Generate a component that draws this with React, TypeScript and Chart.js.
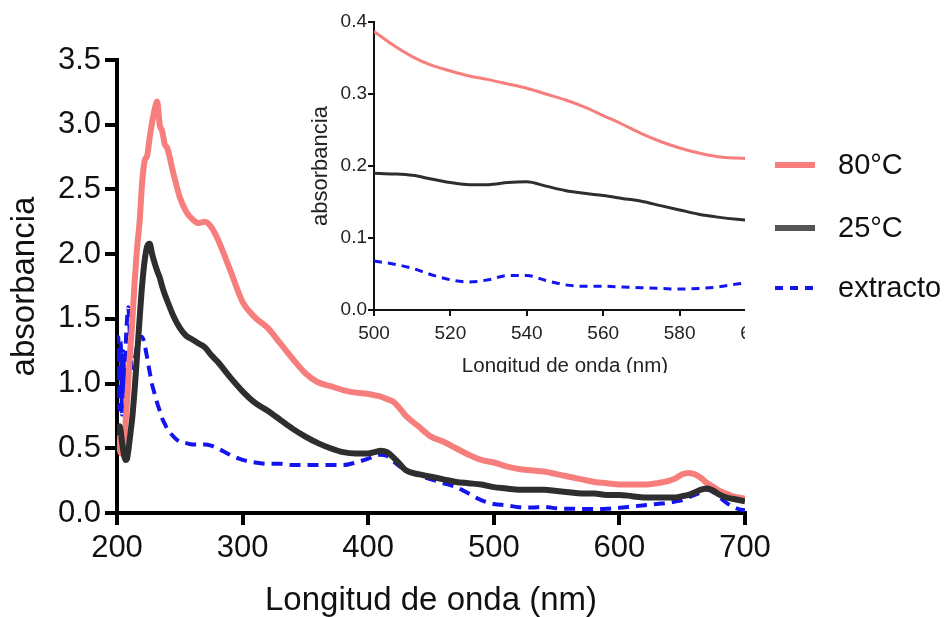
import React, { useEffect, useRef } from 'react';
import { Chart, registerables } from 'chart.js';

Chart.register(...registerables);

// ---------- Data ----------
const seriesLabels = ['80°C', '25°C', 'extracto'];

const wavelengths = [
  200, 201, 202, 203, 204, 205, 206, 207, 208, 209, 210, 211, 212,
  214, 216, 218, 220, 222, 224, 226, 228, 230, 232, 234, 236, 238, 240,
  245, 250, 255, 260, 265, 270, 275, 280,
  290, 300, 310, 320, 330, 340, 350, 360, 370, 380, 390, 400,
  405, 410, 415, 420, 425, 430,
  440, 450, 460, 470, 480, 490, 500, 510, 520, 530, 540, 550, 560, 570, 580, 590, 600, 610, 620, 630, 640,
  645, 650, 655, 660, 665, 670, 675, 680, 685, 690, 695, 700,
];

const abs80 = [
  0.60, 0.55, 0.50, 0.46, 0.47, 0.52, 0.60, 0.72, 0.86, 1.02, 1.18, 1.32, 1.45,
  1.78, 2.05, 2.25, 2.55, 2.72, 2.76, 2.90, 3.02, 3.12, 3.18, 3.00, 2.95, 2.85, 2.82,
  2.62, 2.44, 2.33, 2.27, 2.24, 2.25, 2.21, 2.12,
  1.88, 1.63, 1.51, 1.43, 1.31, 1.19, 1.08, 1.01, 0.98, 0.95, 0.93, 0.92,
  0.91, 0.90, 0.88, 0.86, 0.81, 0.75,
  0.67, 0.59, 0.55, 0.50, 0.45, 0.41, 0.39, 0.36, 0.34, 0.33, 0.32, 0.30, 0.28, 0.26, 0.24, 0.23, 0.22, 0.22, 0.22, 0.23, 0.25,
  0.27, 0.30, 0.31, 0.30, 0.27, 0.23, 0.20, 0.17, 0.15, 0.13, 0.12, 0.11,
];

const abs25 = [
  0.60, 0.64, 0.67, 0.63, 0.55, 0.48, 0.43, 0.41, 0.42, 0.48, 0.56, 0.64, 0.72,
  0.95, 1.22, 1.50, 1.76, 1.95, 2.06, 2.08, 2.00, 1.93, 1.87, 1.82, 1.75, 1.69, 1.64,
  1.52, 1.43, 1.37, 1.34, 1.31, 1.28, 1.22, 1.17,
  1.05, 0.94, 0.85, 0.79, 0.72, 0.65, 0.59, 0.54, 0.50, 0.47, 0.46, 0.46,
  0.47, 0.48, 0.47, 0.43, 0.38, 0.33,
  0.30, 0.28, 0.26, 0.24, 0.23, 0.22, 0.20, 0.19, 0.18, 0.18, 0.18, 0.17, 0.16, 0.15, 0.15, 0.14, 0.14, 0.13, 0.12, 0.12, 0.12,
  0.12, 0.13, 0.14, 0.16, 0.18, 0.19, 0.17, 0.14, 0.12, 0.11, 0.10, 0.09,
];

const absExtracto = [
  1.05, 1.36, 0.80, 1.32, 0.76, 1.25, 0.90, 1.30, 1.50, 1.59, 1.42, 1.20, 1.12,
  1.18, 1.30, 1.36, 1.36, 1.30, 1.20, 1.09, 0.99, 0.92, 0.85, 0.79, 0.73, 0.69, 0.65,
  0.59, 0.55, 0.54, 0.53, 0.53, 0.53, 0.52, 0.50,
  0.45, 0.41, 0.39, 0.38, 0.38, 0.37, 0.37, 0.37, 0.37, 0.37, 0.39, 0.42,
  0.44, 0.45, 0.44, 0.40, 0.36, 0.33,
  0.29, 0.26, 0.23, 0.20, 0.15, 0.10, 0.07, 0.06, 0.045, 0.042, 0.048, 0.036, 0.033, 0.031, 0.03, 0.032, 0.04, 0.05, 0.06, 0.07, 0.08,
  0.09, 0.10, 0.12, 0.14, 0.16, 0.18, 0.16, 0.12, 0.08, 0.05, 0.03, 0.02,
];

const insetWavelengths = [
  500, 505, 510, 515, 520, 525, 530, 535, 540, 545, 550,
  555, 560, 565, 570, 575, 580, 585, 590, 595, 600,
];

const inset80 = [
  0.387, 0.368, 0.352, 0.340, 0.332, 0.325, 0.320, 0.314, 0.308, 0.300, 0.292,
  0.282, 0.270, 0.258, 0.245, 0.234, 0.225, 0.218, 0.213, 0.211, 0.210,
];

const inset25 = [
  0.190, 0.189, 0.187, 0.182, 0.177, 0.174, 0.174, 0.177, 0.178, 0.172, 0.166,
  0.162, 0.159, 0.155, 0.151, 0.145, 0.139, 0.133, 0.129, 0.126, 0.124,
];

const insetExtracto = [
  0.068, 0.064, 0.058, 0.049, 0.042, 0.039, 0.042, 0.048, 0.048, 0.041, 0.035,
  0.033, 0.033, 0.032, 0.031, 0.030, 0.029, 0.030, 0.032, 0.036, 0.039,
];

// ---------- Styles ----------
const RED = '#F67F7E';
const DARK = '#2E2E2E';
const BLUE = '#1414EE';
const FONT = '"Liberation Sans", Arial, Helvetica, sans-serif';

Chart.defaults.font.family = FONT;

const toPoints = (xs: number[], ys: number[]) => xs.map((x, i) => ({ x, y: ys[i] }));

const sideLegend = {
  id: 'sideLegend',
  afterDraw(chart: any) {
    const ctx = chart.ctx as CanvasRenderingContext2D;
    const items = [
      { text: seriesLabels[0], color: RED, width: 6, dash: [] as number[], y: 165 },
      { text: seriesLabels[1], color: '#555555', width: 6, dash: [] as number[], y: 228 },
      { text: seriesLabels[2], color: BLUE, width: 4, dash: [8, 7], y: 288 },
    ];
    ctx.save();
    for (const it of items) {
      ctx.beginPath();
      ctx.strokeStyle = it.color;
      ctx.lineWidth = it.width;
      ctx.lineCap = 'butt';
      ctx.setLineDash(it.dash);
      ctx.moveTo(775, it.y);
      ctx.lineTo(815, it.y);
      ctx.stroke();
      ctx.setLineDash([]);
      ctx.fillStyle = '#111';
      ctx.font = `29px ${FONT}`;
      ctx.textBaseline = 'middle';
      ctx.textAlign = 'left';
      ctx.fillText(it.text, 838, it.y + 1);
    }
    ctx.restore();
  },
};

export default function App() {
  const mainRef = useRef<HTMLCanvasElement | null>(null);
  const insetRef = useRef<HTMLCanvasElement | null>(null);

  useEffect(() => {
    if (!mainRef.current || !insetRef.current) return;

    const main = new Chart(mainRef.current, {
      type: 'line',
      data: {
        datasets: [
          {
            label: seriesLabels[0],
            data: toPoints(wavelengths, abs80),
            borderColor: RED,
            borderWidth: 6,
            pointRadius: 0,
            cubicInterpolationMode: 'monotone',
            order: 1,
          },
          {
            label: seriesLabels[1],
            data: toPoints(wavelengths, abs25),
            borderColor: DARK,
            borderWidth: 6,
            pointRadius: 0,
            cubicInterpolationMode: 'monotone',
            order: 0,
          },
          {
            label: seriesLabels[2],
            data: toPoints(wavelengths, absExtracto),
            borderColor: BLUE,
            borderWidth: 4,
            borderDash: [11, 7],
            pointRadius: 0,
            cubicInterpolationMode: 'monotone',
            order: 2,
          },
        ],
      },
      options: {
        animation: false,
        responsive: false,
        devicePixelRatio: 1,
        layout: { padding: { top: 60, right: 200, left: 0, bottom: 0 } },
        plugins: { legend: { display: false }, tooltip: { enabled: false } },
        scales: {
          x: {
            type: 'linear',
            min: 200,
            max: 700,
            ticks: { stepSize: 100, color: '#111', font: { size: 31 }, padding: 5, maxRotation: 0, autoSkip: false },
            grid: { drawOnChartArea: false, drawTicks: true, tickLength: 12, tickWidth: 4, lineWidth: 4, tickColor: '#000', color: '#000' },
            border: { display: true, width: 4, color: '#000' },
            title: { display: true, text: 'Longitud de onda (nm)', color: '#111', font: { size: 33, lineHeight: 1 }, padding: { top: 0, bottom: 0 } },
            afterFit: (s: any) => { s.height = 104; },
          },
          y: {
            type: 'linear',
            min: 0,
            max: 3.5,
            ticks: { stepSize: 0.5, color: '#111', font: { size: 31 }, padding: 4, callback: (v: any) => Number(v).toFixed(1) },
            grid: { drawOnChartArea: false, drawTicks: true, tickLength: 12, tickWidth: 4, lineWidth: 4, tickColor: '#000', color: '#000' },
            border: { display: true, width: 4, color: '#000' },
            title: { display: true, text: 'absorbancia', color: '#111', font: { size: 33, lineHeight: 1 }, padding: { top: 8, bottom: 0 } },
            afterFit: (s: any) => { s.width = 117; },
          },
        },
      },
      plugins: [sideLegend],
    } as any);

    const inset = new Chart(insetRef.current, {
      type: 'line',
      data: {
        datasets: [
          {
            label: seriesLabels[0],
            data: toPoints(insetWavelengths, inset80),
            borderColor: RED,
            borderWidth: 3,
            pointRadius: 0,
            cubicInterpolationMode: 'monotone',
          },
          {
            label: seriesLabels[1],
            data: toPoints(insetWavelengths, inset25),
            borderColor: DARK,
            borderWidth: 3,
            pointRadius: 0,
            cubicInterpolationMode: 'monotone',
          },
          {
            label: seriesLabels[2],
            data: toPoints(insetWavelengths, insetExtracto),
            borderColor: BLUE,
            borderWidth: 3,
            borderDash: [8, 6],
            pointRadius: 0,
            cubicInterpolationMode: 'monotone',
          },
        ],
      },
      options: {
        animation: false,
        responsive: false,
        devicePixelRatio: 1,
        layout: { padding: { top: 22, right: 24, left: 0, bottom: 0 } },
        plugins: { legend: { display: false }, tooltip: { enabled: false } },
        scales: {
          x: {
            type: 'linear',
            min: 500,
            max: 600,
            ticks: { stepSize: 20, color: '#222', font: { size: 19 }, padding: 6, maxRotation: 0, autoSkip: false },
            grid: { drawOnChartArea: false, drawTicks: true, tickLength: 6, tickWidth: 2, lineWidth: 2, tickColor: '#111', color: '#111' },
            border: { display: true, width: 2, color: '#111' },
            title: { display: true, text: 'Longitud de onda (nm)', color: '#222', font: { size: 20.5, lineHeight: 1 }, padding: { top: 0, bottom: 3 } },
            afterFit: (s: any) => { s.height = 70; },
          },
          y: {
            type: 'linear',
            min: 0,
            max: 0.4,
            ticks: { stepSize: 0.1, color: '#222', font: { size: 19 }, padding: 1, callback: (v: any) => Number(v).toFixed(1) },
            grid: { drawOnChartArea: false, drawTicks: true, tickLength: 6, tickWidth: 2, lineWidth: 2, tickColor: '#111', color: '#111' },
            border: { display: true, width: 2, color: '#111' },
            title: { display: true, text: 'absorbancia', color: '#222', font: { size: 22, lineHeight: 1 }, padding: { top: 0, bottom: 0 } },
            afterFit: (s: any) => { s.width = 64; },
          },
        },
      },
    } as any);

    return () => {
      main.destroy();
      inset.destroy();
    };
  }, []);

  return (
    <div style={{ position: 'absolute', left: 0, top: 0, width: 945, height: 617, background: '#fff', overflow: 'hidden' }}>
      <canvas ref={mainRef} width={945} height={617} style={{ position: 'absolute', left: 0, top: 0 }} />
      <div style={{ position: 'absolute', left: 310, top: 0, width: 435, height: 373, overflow: 'hidden', background: '#fff' }}>
        <canvas ref={insetRef} width={470} height={380} style={{ position: 'absolute', left: 0, top: 0 }} />
      </div>
    </div>
  );
}
